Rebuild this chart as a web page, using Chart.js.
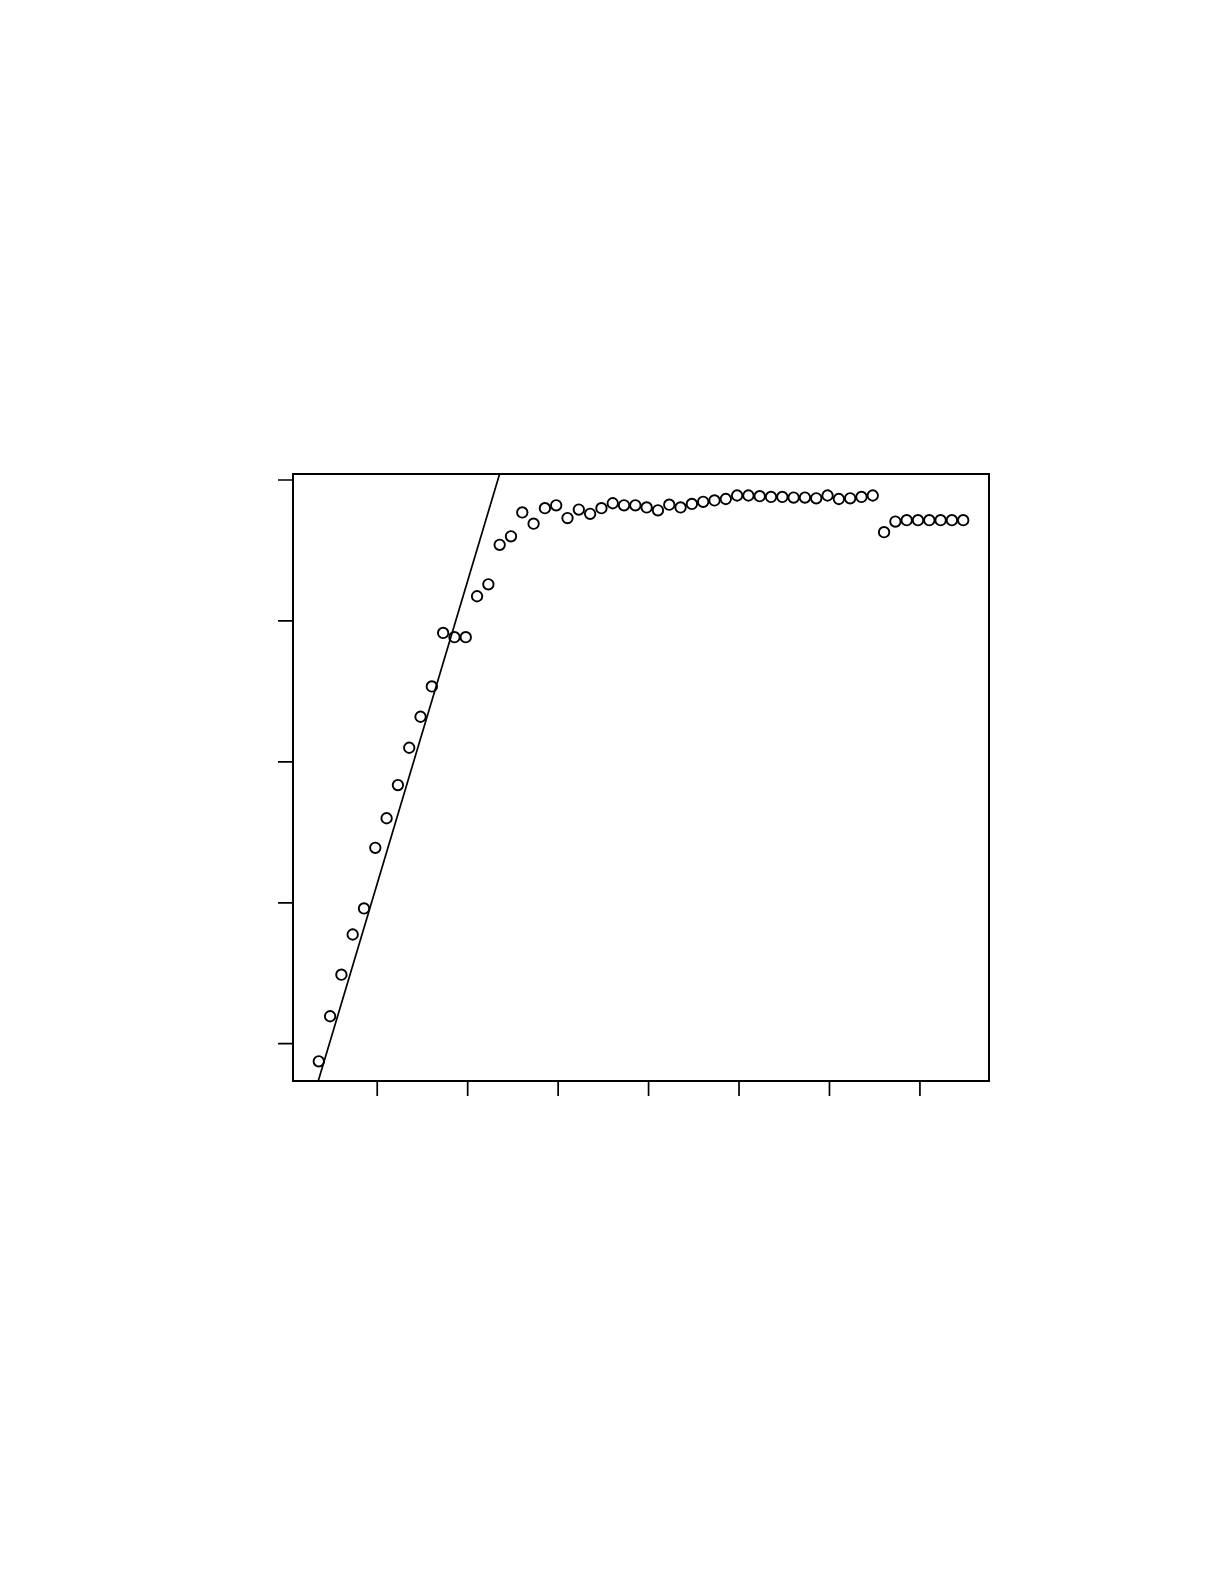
<!DOCTYPE html>
<html>
<head>
<meta charset="utf-8">
<title>Scatter with fitted line</title>
<script src="https://cdn.jsdelivr.net/npm/chart.js@4/dist/chart.umd.min.js"></script>
<style>
  html, body { margin: 0; padding: 0; background: #fff; }
  #wrap { width: 1225px; height: 1585px; }
</style>
</head>
<body>
<div id="wrap"><canvas id="plot" width="1225" height="1585"></canvas></div>
<script>
// observations (index along x, value along y)
const xValues = [1, 2, 3, 4, 5, 6, 7, 8, 9, 10, 11, 12, 13, 14, 15, 16, 17, 18, 19, 20,
  21, 22, 23, 24, 25, 26, 27, 28, 29, 30, 31, 32, 33, 34, 35, 36, 37, 38, 39, 40,
  41, 42, 43, 44, 45, 46, 47, 48, 49, 50, 51, 52, 53, 54, 55, 56, 57, 58];
const yValues = [0.175, 0.239, 0.298, 0.355, 0.392, 0.478, 0.520, 0.567, 0.620, 0.664,
  0.707, 0.783, 0.777, 0.777, 0.835, 0.852, 0.908, 0.920, 0.954, 0.938,
  0.960, 0.964, 0.946, 0.958, 0.952, 0.960, 0.967, 0.964, 0.964, 0.961,
  0.957, 0.965, 0.961, 0.966, 0.969, 0.971, 0.973, 0.978, 0.978, 0.977,
  0.976, 0.976, 0.975, 0.975, 0.974, 0.978, 0.973, 0.974, 0.976, 0.978,
  0.926, 0.941, 0.943, 0.943, 0.943, 0.943, 0.943, 0.943];

// straight reference line (end points, clipped by the plot box)
const lineX = [0, 20];
const lineY = [0.096, 1.170];

// tick positions (no labels in the original)
const xTicks = [6.17, 14.17, 22.17, 30.17, 38.17, 46.17, 54.17];
const yTicks = [0.2, 0.4, 0.6, 0.8, 1.0];

const points = xValues.map((x, i) => ({ x: x, y: yValues[i] }));
const linePts = lineX.map((x, i) => ({ x: x, y: lineY[i] }));

// box + outward tick marks, R style
const boxPlugin = {
  id: 'boxPlugin',
  afterDraw(chart) {
    const ctx = chart.ctx;
    const a = chart.chartArea;
    const xs = chart.scales.x;
    const ys = chart.scales.y;
    ctx.save();
    ctx.strokeStyle = '#000';
    ctx.lineWidth = 2;
    ctx.strokeRect(a.left, a.top, a.right - a.left, a.bottom - a.top);

    ctx.lineWidth = 1.7;
    ctx.beginPath();
    xTicks.forEach(v => {
      const px = xs.getPixelForValue(v);
      ctx.moveTo(px, a.bottom);
      ctx.lineTo(px, a.bottom + 15);
    });
    yTicks.forEach(v => {
      const py = ys.getPixelForValue(v);
      ctx.moveTo(a.left, py);
      ctx.lineTo(a.left - 15, py);
    });
    ctx.stroke();
    ctx.restore();
  }
};

new Chart(document.getElementById('plot'), {
  type: 'scatter',
  data: {
    datasets: [
      {
        label: 'observed',
        data: points,
        pointStyle: 'circle',
        pointRadius: 5.2,
        pointBorderWidth: 1.9,
        pointBorderColor: '#000',
        pointBackgroundColor: 'rgba(0,0,0,0)'
      },
      {
        type: 'line',
        label: 'fit',
        data: linePts,
        borderColor: '#000',
        borderWidth: 1.7,
        pointRadius: 0,
        fill: false,
        tension: 0
      }
    ]
  },
  options: {
    responsive: false,
    animation: false,
    devicePixelRatio: 1,
    layout: {
      padding: { left: 293, right: 236, top: 474, bottom: 504 }
    },
    plugins: {
      legend: { display: false },
      tooltip: { enabled: false }
    },
    scales: {
      x: { type: 'linear', display: false, min: -1.28, max: 60.28 },
      y: { type: 'linear', display: false, min: 0.1471, max: 1.0085 }
    }
  },
  plugins: [boxPlugin]
});
</script>
</body>
</html>
